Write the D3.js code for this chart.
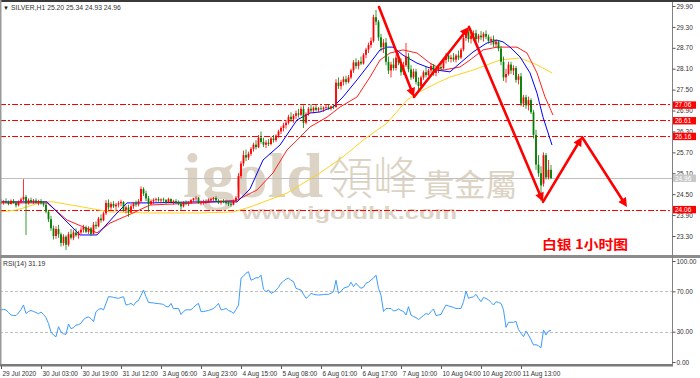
<!DOCTYPE html>
<html>
<head>
<meta charset="utf-8">
<script src="https://cdn.jsdelivr.net/npm/d3@7"></script>
<style>
    html, body { margin: 0; padding: 0; background: #fff; }
    svg { display: block; font-family: "Liberation Sans", Arial, sans-serif; }
</style>
</head>
<body>
<svg id="chart" width="700" height="378"></svg>
<script>
// SILVER H1, one row per bar: [open, high, low, close]
let candles = [
    [24.30,24.36,24.22,24.26],[24.26,24.33,24.20,24.30],[24.30,24.38,24.24,24.27],[24.27,24.32,24.18,24.22],
    [24.22,24.35,24.20,24.31],[24.31,24.36,24.23,24.25],[24.25,24.30,24.12,24.18],[24.18,24.32,24.15,24.29],
    [24.29,24.40,24.24,24.35],[24.35,24.93,24.30,24.42],[24.42,24.48,23.33,24.24],[24.24,24.38,24.20,24.33],
    [24.33,24.40,24.25,24.28],[24.28,24.36,24.22,24.32],[24.32,24.38,24.24,24.26],[24.26,24.34,24.18,24.30],
    [24.30,24.36,24.20,24.24],[24.24,24.30,24.14,24.20],[24.20,24.26,23.95,24.00],[24.00,24.05,23.70,23.78],
    [23.78,23.88,23.45,23.52],[23.52,23.60,23.20,23.30],[23.30,23.58,23.22,23.50],[23.50,23.62,23.25,23.35],
    [23.35,23.40,23.00,23.10],[23.10,23.35,23.02,23.28],[23.28,23.32,22.90,23.05],[23.05,23.42,23.00,23.35],
    [23.35,23.50,23.20,23.25],[23.25,23.48,23.18,23.40],[23.40,23.52,23.28,23.32],[23.32,23.45,23.22,23.40],
    [23.40,23.55,23.35,23.48],[23.48,23.62,23.40,23.55],[23.55,23.60,23.38,23.42],[23.42,23.58,23.36,23.52],
    [23.52,23.56,23.30,23.36],[23.36,23.70,23.34,23.62],[23.62,23.72,23.50,23.58],[23.58,23.85,23.55,23.80],
    [23.80,23.92,23.68,23.75],[23.75,24.00,23.72,23.95],[23.95,24.33,23.90,24.25],[24.25,24.35,24.05,24.12],
    [24.12,24.28,24.05,24.22],[24.22,24.30,24.10,24.15],[24.15,24.25,24.02,24.20],[24.20,24.30,24.12,24.24],
    [24.24,24.34,24.15,24.28],[24.28,24.30,24.00,24.05],[24.05,24.18,23.95,24.12],[24.12,24.20,23.85,23.98],
    [23.98,24.22,23.95,24.15],[24.15,24.28,24.08,24.24],[24.24,24.32,24.14,24.20],[24.20,24.36,24.15,24.30],
    [24.30,24.72,24.26,24.65],[24.65,24.70,24.45,24.52],[24.52,24.60,24.30,24.38],[24.38,24.45,24.00,24.22],
    [24.22,24.35,24.18,24.30],[24.30,24.38,24.22,24.34],[24.34,24.40,24.26,24.36],[24.36,24.42,24.28,24.32],
    [24.32,24.38,24.24,24.35],[24.35,24.40,24.28,24.33],[24.33,24.36,24.22,24.26],[24.26,24.40,24.24,24.36],
    [24.36,24.38,24.24,24.28],[24.28,24.34,24.20,24.30],[24.30,24.36,24.22,24.27],[24.27,24.32,24.18,24.22],
    [24.22,24.28,24.05,24.15],[24.15,24.30,24.12,24.26],[24.26,24.32,24.18,24.24],[24.24,24.30,24.16,24.26],
    [24.26,24.36,24.22,24.33],[24.33,24.40,24.28,24.38],[24.38,24.44,24.30,24.40],[24.40,24.42,24.22,24.25],
    [24.25,24.32,24.18,24.26],[24.26,24.34,24.20,24.28],[24.28,24.35,24.22,24.30],[24.30,24.38,24.25,24.32],
    [24.32,24.40,24.28,24.36],[24.36,24.42,24.30,24.39],[24.39,24.44,24.30,24.32],[24.32,24.36,24.22,24.26],
    [24.26,24.34,24.20,24.30],[24.30,24.36,24.24,24.28],[24.28,24.34,24.20,24.24],[24.24,24.30,24.16,24.22],
    [24.22,24.28,24.14,24.20],[24.20,24.34,24.18,24.30],[24.30,24.45,24.26,24.40],[24.40,25.10,24.36,25.02],
    [25.02,25.45,24.95,25.38],[25.38,25.75,25.30,25.62],[25.62,25.78,25.45,25.55],[25.55,25.72,25.48,25.66],
    [25.66,25.85,25.60,25.80],[25.80,25.98,25.72,25.92],[25.92,26.05,25.78,25.85],[25.85,26.20,25.82,26.12],
    [26.12,26.30,25.95,26.00],[26.00,26.12,25.85,25.92],[25.92,26.05,25.82,25.98],[25.98,26.08,25.88,25.94],
    [25.94,26.15,25.90,26.10],[26.10,26.20,25.98,26.05],[26.05,26.22,26.00,26.18],[26.18,26.35,26.12,26.30],
    [26.30,26.45,26.22,26.40],[26.40,26.55,26.30,26.48],[26.48,26.62,26.38,26.55],[26.55,26.78,26.50,26.72],
    [26.72,26.85,26.58,26.65],[26.65,26.80,26.55,26.75],[26.75,26.90,26.66,26.82],[26.82,26.95,26.70,26.78],
    [26.78,27.02,26.74,26.95],[26.95,27.05,26.40,26.55],[26.55,26.85,26.50,26.80],[26.80,27.00,26.75,26.95],
    [26.95,27.08,26.85,26.90],[26.90,27.02,26.82,26.98],[26.98,27.06,26.88,26.92],[26.92,27.00,26.85,26.96],
    [26.96,27.04,26.90,26.94],[26.94,27.02,26.86,26.98],[26.98,27.06,26.92,27.00],[27.00,27.08,26.92,26.96],
    [26.96,27.04,26.90,27.02],[27.02,27.08,26.94,27.00],[27.00,27.80,26.98,27.70],[27.70,27.85,27.52,27.60],
    [27.60,27.78,27.50,27.72],[27.72,27.88,27.62,27.80],[27.80,27.90,27.65,27.72],[27.72,27.92,27.68,27.85],
    [27.85,28.10,27.80,28.05],[28.05,28.35,27.98,28.28],[28.28,28.40,28.10,28.18],[28.18,28.35,28.08,28.30],
    [28.30,28.45,28.20,28.25],[28.25,28.55,28.22,28.50],[28.50,28.70,28.40,28.65],[28.65,28.85,28.55,28.78],
    [28.78,29.00,28.70,28.90],[28.90,29.65,28.85,29.58],[29.58,29.79,29.35,29.45],[29.45,29.50,28.90,29.00],
    [29.00,29.10,28.60,28.72],[28.72,28.95,28.55,28.85],[28.85,28.98,28.20,28.30],[28.30,28.45,27.95,28.05],
    [28.05,28.30,27.85,28.22],[28.22,28.40,28.05,28.12],[28.12,28.50,28.05,28.42],[28.42,28.55,28.20,28.28],
    [28.28,28.40,27.90,28.00],[28.00,28.30,27.92,28.20],[28.20,28.84,28.15,28.45],[28.45,28.55,28.00,28.08],
    [28.08,28.20,27.78,27.85],[27.85,28.10,27.80,28.02],[28.02,28.10,27.65,27.72],[27.72,27.85,27.42,27.60],
    [27.60,27.90,27.55,27.85],[27.85,28.05,27.78,28.00],[28.00,28.15,27.85,27.92],[27.92,28.10,27.88,28.05],
    [28.05,28.25,27.98,28.18],[28.18,28.24,27.90,27.98],[27.98,28.12,27.88,28.05],[28.05,28.22,27.98,28.15],
    [28.15,28.30,28.05,28.12],[28.12,28.40,28.08,28.35],[28.35,28.55,28.25,28.48],[28.48,28.55,28.30,28.38],
    [28.38,28.50,28.28,28.42],[28.42,28.55,28.30,28.36],[28.36,28.52,28.28,28.48],[28.48,28.62,28.35,28.42],
    [28.42,28.70,28.38,28.65],[28.65,29.05,28.60,28.98],[28.98,29.25,28.90,29.15],[29.15,29.22,28.85,28.95],
    [28.95,29.15,28.82,29.05],[29.05,29.20,28.90,29.12],[29.12,29.22,28.88,28.95],[28.95,29.10,28.85,29.05],
    [29.05,29.18,28.92,29.00],[29.00,29.15,28.88,29.10],[29.10,29.20,28.95,29.02],[29.02,29.08,28.82,28.90],
    [28.90,29.02,28.78,28.95],[28.95,29.05,28.72,28.80],[28.80,28.95,28.70,28.88],[28.88,28.92,28.60,28.68],
    [28.68,28.75,28.20,28.30],[28.30,28.45,27.75,27.85],[27.85,28.10,27.70,27.95],[27.95,28.30,27.90,28.22],
    [28.22,28.30,27.95,28.05],[28.05,28.20,27.92,28.12],[28.12,28.18,27.70,27.78],[27.78,27.95,27.65,27.88],
    [27.88,27.98,27.02,27.10],[27.10,27.35,27.00,27.28],[27.28,27.35,26.95,27.05],[27.05,27.30,26.90,27.20],
    [27.20,27.25,26.80,26.85],[26.85,26.92,26.10,26.20],[26.20,26.35,25.20,25.35],[25.35,25.62,25.00,25.10],
    [25.10,25.30,24.30,24.75],[24.80,25.70,24.72,25.62],[25.62,25.68,24.92,24.98],[24.98,25.48,24.92,25.20],
    [25.20,25.34,24.93,24.96]
];

// moving averages: [bar, price]
let maFast = [
    [0,24.28],[18.4,24.28],[31.6,23.33],[38.4,23.33],[46.4,23.96],[50.4,24.25],[59.6,24.25],[79.6,24.28],
    [94.4,24.28],[99.6,24.65],[104.8,25.48],[111.6,25.91],[118.4,26.63],[123.6,26.83],[127.6,26.86],
    [132.8,27.00],[136.8,27.29],[142.4,27.78],[147.6,28.26],[151.6,28.64],[154.4,28.72],[156.8,28.72],
    [160.8,28.49],[166.4,28.26],[170.4,28.15],[174.4,28.06],[179.6,28.01],[183.6,28.26],[188.8,28.58],
    [194.4,28.84],[198.4,28.92],[200.8,28.87],[203.6,28.72],[207.6,28.44],[211.6,27.98],[214.4,27.40],
    [216.8,26.71],[220.4,25.91]
];
let maMid = [
    [0,24.25],[18.4,24.25],[26.4,23.76],[38.4,23.39],[43.6,23.67],[52.8,23.96],[59.6,24.19],[79.6,24.25],
    [94.4,24.33],[102.4,24.62],[108.8,25.11],[114.4,25.77],[118.4,26.05],[123.6,26.43],[130.4,26.71],
    [135.6,27.00],[142.4,27.29],[147.6,27.86],[151.6,28.35],[155.6,28.55],[160.8,28.64],[166.4,28.55],
    [171.6,28.26],[176.8,28.06],[183.6,28.15],[187.6,28.35],[192.8,28.64],[198.4,28.72],[206.4,28.72],
    [210.4,28.55],[214.4,27.98],[217.6,27.29],[220.8,26.77]
];
let maSlow = [
    [0,23.99],[6.4,24.05],[16.8,24.28],[20.8,24.28],[32.8,24.13],[43.6,23.99],[59.6,23.96],[79.6,23.96],
    [92.8,23.99],[99.6,24.13],[114.4,24.53],[127.6,25.11],[136.8,25.57],[144.8,26.05],[154.4,26.54],
    [162.4,27.20],[166.4,27.40],[174.4,27.69],[179.6,27.86],[188.8,28.06],[199.6,28.35],[207.6,28.41],
    [214.4,28.21],[220.4,27.98]
];

// RSI(14), one value per bar
let rsi = [
    51.5,52,51.6,49,46.5,46,46,48.5,52,56.4,48,50,51,50,49,47.7,49.5,47,44,38,
    29.7,26.7,25,35,29.7,28,27.4,37.6,33,34,36.6,37,38.3,42,43.9,44.5,43,40,49.8,52,
    53,51.6,58,64.7,64.5,64,63.5,63,64,64.6,56.4,57,58,56,59.4,61,66,71.3,64.6,59,
    58.7,58.5,58,57.8,57.5,57,55,54.5,58,52.7,53,53,47,50,51.7,51.7,51.7,54,56.4,58,
    49.8,50,50.5,51,52,53,55,58,51.6,52,53,51,50,48.2,52,56.4,83,85,88,89.4,
    81,82,83.5,83.3,86,72,69.6,71.3,68,69,71.3,74,78,80,82,83,81,79.6,73,72,
    71.3,67,63,65,68,67,66.5,66.3,66.5,66.8,67,67,68,69.6,81,68,70,73,74,74.6,
    79,74.6,78,75,73,74,78,79,81.2,83,86,73,66,50,53,53,53,50.5,51,52.5,
    51,50,46.5,54.8,46.5,45,44,42,44,46,48,47,50,52.5,46,46.5,47,52,56.4,55.5,
    54.8,54,53,53,53,59.7,70.3,63,64,64.6,67,63,59.7,64,62.8,61.6,59,56.4,59.7,59,
    58,51.7,34.3,39.3,39.3,39.3,40.3,32,28.4,25.1,30.7,26.7,22,16.8,17.2,16,14.2,31.7,26.7,30.7,
    31.19
];

let levels = [27.06, 26.61, 26.16, 24.06];
let lastPrice = 24.96;
let priceTicks = [29.90, 29.30, 28.70, 28.10, 27.50, 26.90, 26.30, 25.70, 25.10, 24.50, 23.90, 23.30];
let rsiTicks = [100, 70, 30, 0];
let rsiLevels = [70, 30];
let timeTickBars = [0, 16, 32, 48, 64, 80, 96, 112, 128, 144, 160, 176, 192, 208];
let timeLabels = ['29 Jul 2020', '30 Jul 03:00', '30 Jul 19:00', '31 Jul 12:00', '3 Aug 06:00', '3 Aug 23:00',
    '4 Aug 15:00', '5 Aug 08:00', '6 Aug 01:00', '6 Aug 17:00', '7 Aug 10:00', '10 Aug 04:00',
    '10 Aug 20:00', '11 Aug 13:00'];
// hand drawn forecast arrows: [bar, price]
let zigzag = [[151.2,29.87],[165.2,27.29],[187.2,29.30],[216.8,24.28],[232.4,26.14],[250.4,24.13]];

let svg = d3.select('#chart');
let W = 700, right = 672;
let mainTop = 2, mainBottom = 255, rsiTop = 258, rsiBottom = 365;

let x = d3.scaleLinear().domain([0, 268.4]).range([1, right]);
let y = d3.scaleLinear().domain([23.30, 29.90]).range([236, 6]);
let yr = d3.scaleLinear().domain([0, 100]).range([362, 261]);
// snap thin horizontal lines onto a pixel row
let row = v => 2 * Math.round(v / 2) + 0.5;

let defs = svg.append('defs');
defs.append('clipPath').attr('id', 'clipMain').append('rect')
    .attr('x', 0).attr('y', mainTop).attr('width', right).attr('height', mainBottom - mainTop);
defs.append('clipPath').attr('id', 'clipRsi').append('rect')
    .attr('x', 0).attr('y', rsiTop).attr('width', right).attr('height', rsiBottom - rsiTop);

// watermark
let wm = svg.append('g').attr('fill', '#d6ccba').attr('opacity', 0.85);
wm.append('text').attr('x', 183).attr('y', 197)
    .attr('font-family', '"Liberation Serif", serif').attr('font-weight', 'bold')
    .attr('font-size', 64).attr('textLength', 140).attr('lengthAdjust', 'spacingAndGlyphs')
    .text('igold');
wm.append('text').attr('x', 328).attr('y', 195)
    .attr('font-family', '"Noto Sans CJK TC", sans-serif').attr('font-weight', 300)
    .attr('font-size', 45).attr('textLength', 90).attr('lengthAdjust', 'spacingAndGlyphs')
    .text('領峰');
wm.append('text').attr('x', 423).attr('y', 196)
    .attr('font-family', '"Noto Sans CJK TC", sans-serif')
    .attr('font-size', 31).attr('textLength', 94).attr('lengthAdjust', 'spacingAndGlyphs')
    .text('貴金屬');
wm.append('text').attr('x', 242).attr('y', 219)
    .attr('font-family', '"Liberation Sans", sans-serif').attr('font-weight', 'bold')
    .attr('font-size', 18).attr('textLength', 215).attr('lengthAdjust', 'spacingAndGlyphs')
    .text('www.igoldhk.com');

// level lines
let main = svg.append('g').attr('clip-path', 'url(#clipMain)');
main.append('line')
    .attr('x1', 0).attr('x2', right)
    .attr('y1', row(y(lastPrice))).attr('y2', row(y(lastPrice)))
    .attr('stroke', '#c0c0c0').attr('stroke-width', 1);
main.selectAll('line.level').data(levels).join('line')
    .attr('class', 'level')
    .attr('x1', 0).attr('x2', right)
    .attr('y1', d => row(y(d))).attr('y2', d => row(y(d)))
    .attr('stroke', '#ff0000').attr('stroke-width', 1)
    .attr('stroke-dasharray', '6,2,2,2');

// moving averages
let maLine = d3.line().x(d => x(d[0])).y(d => y(d[1]));
[[maSlow, '#ffd21e'], [maMid, '#ff2020'], [maFast, '#0000ff']].forEach(([data, color]) => {
    main.append('path').datum(data)
        .attr('d', maLine)
        .attr('fill', 'none').attr('stroke', color).attr('stroke-width', 1);
});

// candles
let up = '#ff0000', down = '#008000';
let bars = main.append('g');
bars.selectAll('line').data(candles).join('line')
    .attr('x1', (d, i) => x(i)).attr('x2', (d, i) => x(i))
    .attr('y1', d => y(d[1])).attr('y2', d => y(d[2]))
    .attr('stroke', d => d[3] >= d[0] ? up : down).attr('stroke-width', 0.8);
bars.selectAll('rect').data(candles).join('rect')
    .attr('x', (d, i) => x(i) - 0.9).attr('width', 1.8)
    .attr('y', d => y(Math.max(d[0], d[3])))
    .attr('height', d => Math.max(0.8, Math.abs(y(d[0]) - y(d[3]))))
    .attr('fill', d => d[3] >= d[0] ? up : down);

// forecast arrows
let arrows = svg.append('g');
for (let i = 1; i < zigzag.length; i++) {
    let x0 = x(zigzag[i - 1][0]), y0 = y(zigzag[i - 1][1]);
    let x1 = x(zigzag[i][0]), y1 = y(zigzag[i][1]);
    let a = Math.atan2(y1 - y0, x1 - x0);
    let len = 9, half = 4.5;
    let bx = x1 - len * Math.cos(a), by = y1 - len * Math.sin(a);
    arrows.append('line')
        .attr('x1', x0).attr('y1', y0).attr('x2', bx).attr('y2', by)
        .attr('stroke', '#ff0000').attr('stroke-width', 2.6).attr('stroke-linecap', 'round');
    arrows.append('path')
        .attr('d', `M${x1},${y1}L${bx + half * Math.sin(a)},${by - half * Math.cos(a)}L${bx - half * Math.sin(a)},${by + half * Math.cos(a)}Z`)
        .attr('fill', '#ff0000');
}

// RSI panel
let rsiG = svg.append('g').attr('clip-path', 'url(#clipRsi)');
rsiG.selectAll('line').data(rsiLevels).join('line')
    .attr('x1', 0).attr('x2', right)
    .attr('y1', d => Math.round(yr(d)) + 0.5).attr('y2', d => Math.round(yr(d)) + 0.5)
    .attr('stroke', '#c0c0c0').attr('stroke-dasharray', '3,2');
rsiG.append('path').datum(rsi)
    .attr('d', d3.line().x((d, i) => x(i)).y(d => yr(d)))
    .attr('fill', 'none').attr('stroke', '#3c9cff').attr('stroke-width', 1);

// frames
let frame = svg.append('g');
frame.append('rect').attr('x', 0).attr('y', 0).attr('width', W).attr('height', 2).attr('fill', '#3a3a3a');
frame.append('rect').attr('x', 0).attr('y', 0).attr('width', 1.5).attr('height', rsiBottom).attr('fill', '#9a9a9a');
frame.append('rect').attr('x', 0).attr('y', mainBottom).attr('width', W).attr('height', 3).attr('fill', '#8c8c8c');
frame.append('rect').attr('x', 0).attr('y', rsiBottom - 1).attr('width', right + 1).attr('height', 2.5).attr('fill', '#7a7a7a');
frame.append('line').attr('x1', right + 0.5).attr('x2', right + 0.5).attr('y1', mainTop).attr('y2', rsiBottom)
    .attr('stroke', '#808080');

// price axis
let priceAxis = svg.append('g')
    .attr('transform', `translate(${right + 0.5},0)`)
    .call(d3.axisRight(y).tickValues(priceTicks).tickFormat(d3.format('.2f')).tickSize(3).tickPadding(1));
priceAxis.select('.domain').remove();
priceAxis.selectAll('text').attr('font-size', 6.5).attr('fill', '#333').attr('font-family', '"Liberation Sans", sans-serif');
priceAxis.selectAll('line').attr('stroke', '#555');

let tagG = svg.append('g').attr('font-size', 6.5).attr('font-family', '"Liberation Sans", sans-serif');
let tags = levels.map(v => ({ v, fill: '#ff0000' })).concat([{ v: lastPrice, fill: '#c8c8c8' }]);
tagG.selectAll('rect').data(tags).join('rect')
    .attr('x', right + 1).attr('width', 23).attr('y', d => y(d.v) - 3.6).attr('height', 7.4)
    .attr('fill', d => d.fill);
tagG.selectAll('text').data(tags).join('text')
    .attr('x', right + 3).attr('y', d => y(d.v) + 2.4)
    .attr('fill', '#fff')
    .text(d => d3.format('.2f')(d.v));

// RSI axis
let rsiAxis = svg.append('g')
    .attr('transform', `translate(${right + 0.5},0)`)
    .call(d3.axisRight(yr).tickValues(rsiTicks).tickFormat(d3.format('.2f')).tickSize(3).tickPadding(1));
rsiAxis.select('.domain').remove();
rsiAxis.selectAll('text').attr('font-size', 6.5).attr('fill', '#333').attr('font-family', '"Liberation Sans", sans-serif');
rsiAxis.selectAll('line').attr('stroke', '#555');

// time axis
let timeAxis = svg.append('g')
    .attr('transform', `translate(0,${rsiBottom + 1})`)
    .call(d3.axisBottom(x).tickValues(timeTickBars).tickFormat((d, i) => timeLabels[i]).tickSize(3).tickPadding(2));
timeAxis.select('.domain').remove();
timeAxis.selectAll('line').attr('stroke', '#555');
timeAxis.selectAll('text')
    .attr('text-anchor', 'start').attr('dx', 1)
    .attr('font-size', 6.5).attr('fill', '#333').attr('font-family', '"Liberation Sans", sans-serif');

// titles
svg.append('text').attr('x', 3).attr('y', 9.5).attr('font-size', 6).attr('fill', '#222').text('▼');
svg.append('text').attr('x', 11).attr('y', 9.5).attr('font-size', 6.8).attr('fill', '#333')
    .text('SILVER,H1  25.20 25.34 24.93 24.96');
svg.append('text').attr('x', 3).attr('y', 266).attr('font-size', 6.8).attr('fill', '#333')
    .text('RSI(14) 31.19');
svg.append('text').attr('x', 542).attr('y', 249)
    .attr('font-family', '"Noto Sans CJK SC", sans-serif').attr('font-weight', 'bold')
    .attr('font-size', 13).attr('fill', '#ff0000')
    .attr('textLength', 86).attr('lengthAdjust', 'spacingAndGlyphs')
    .text('白银  1小时图');
</script>
</body>
</html>
